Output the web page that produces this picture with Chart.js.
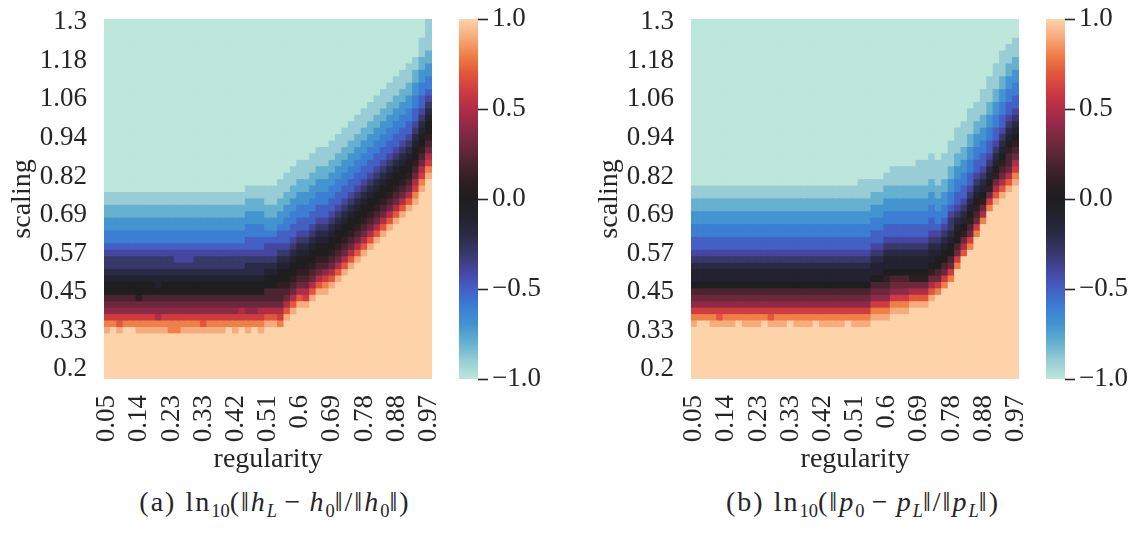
<!DOCTYPE html>
<html>
<head>
<meta charset="utf-8">
<title>Heatmaps: regularity vs scaling</title>
<script src="https://cdn.jsdelivr.net/npm/chart.js@4.4.1/dist/chart.umd.min.js"></script>
<style>
    body { margin: 0; background: #ffffff; }
    #page {
        position: relative;
        width: 1140px;
        height: 533px;
        overflow: hidden;
        font-family: "Liberation Serif", "DejaVu Serif", serif;
        color: #262626;
    }
    canvas { position: absolute; top: 0; }
    .caption {
        position: absolute;
        top: 486px;
        width: 560px;
        text-align: center;
        font-size: 28px;
        line-height: 32px;
        letter-spacing: 2px;
        white-space: nowrap;
    }
    .caption sub { font-size: 0.66em; line-height: 0; vertical-align: -0.32em; letter-spacing: 0; }
    .caption .op { margin: 0 0.26em; }
</style>
</head>
<body>
<div id="page">
    <canvas id="heatA" width="440" height="480" style="left:0px"></canvas>
    <canvas id="barA" width="130" height="400" style="left:450px"></canvas>
    <canvas id="heatB" width="440" height="480" style="left:587px"></canvas>
    <canvas id="barB" width="130" height="400" style="left:1037px"></canvas>
    <div class="caption" style="left:-5px">(a) ln<sub>10</sub>(‖<i>h</i><sub><i>L</i></sub><span class="op">−</span><i>h</i><sub>0</sub>‖/‖<i>h</i><sub>0</sub>‖)</div>
    <div class="caption" style="left:583px">(b) ln<sub>10</sub>(‖<i>p</i><sub>0</sub><span class="op">−</span><i>p</i><sub><i>L</i></sub>‖/‖<i>p</i><sub><i>L</i></sub>‖)</div>
</div>
<script>
// Tick labels
const regTicks = ['0.05', '0.14', '0.23', '0.33', '0.42', '0.51', '0.6', '0.69', '0.78', '0.88', '0.97'];
const regTickCols = [0, 5, 10, 15, 20, 25, 30, 35, 40, 45, 50];
const scalingTicks = ['1.3', '1.18', '1.06', '0.94', '0.82', '0.69', '0.57', '0.45', '0.33', '0.2'];
const scalingTickRows = [55, 49, 43, 37, 31, 25, 19, 13, 7, 1];
const rowCount = 56;

// Colorbar
const cbTicks = [-1, -0.5, 0, 0.5, 1];
const cbLabels = ['\u22121.0', '\u22120.5', '0.0', '0.5', '1.0'];
// icefire, sampled from the colorbar at -1.0, -0.9 ... 1.0
const cmapStops = [
    '#bde7db', '#98cdd5', '#66b1cf', '#4494cf', '#3b7ed4', '#4360c4', '#4646a0',
    '#38386a', '#2b2a46', '#222230', '#1f1e1f', '#2f1e22', '#4a2430', '#6c283c',
    '#8e2947', '#b02d48', '#cf3b3f', '#e2573a', '#ef8048', '#f6ac7d', '#fdd3a9'
];

// Heatmap cells, one column per regularity value.
// Rows below bottom* are +1, rows above the band are -1.
// Band chars: '0' = +1.0 ... 'a' = 0.0 ... 'k' = -1.0 (step 0.1), bottom row first.
const bottomA = [
    7, 7, 7, 7, 7, 7, 7, 7, 7, 7,
    7, 7, 7, 7, 7, 7, 7, 7, 7, 7,
    7, 7, 7, 7, 7, 8, 8, 8, 9, 10,
    11, 11, 12, 13, 13, 14, 15, 16, 17, 18,
    19, 20, 21, 22, 23, 24, 25, 26, 27, 29,
    31
];
const bandsA = [
    '124678aabcddefgghhiijj', '024678aabcddefgghhiijj', '134678aabcddefgghhiijj',
    '024678aabcddefgghhiijj', '024678aabcddefgghhiijj', '124679aabcddefgghhiijj',
    '124678aabcddefgghhiijj', '124678aabcddefgghhiijj', '125678abbcddefgghhiijj',
    '124678aabcddefgghhiijj', '224678aabcddefgghhiijj', '224678aabcdeefgghhiijj',
    '124678aabcdeefgghhiijj', '124678aabcdeefgghhiijj', '124678aabcddefgghhiijj',
    '134678aabcddefgghhiijj', '124678aabcddefgghhiijj', '124678aabcddefgghhiijj',
    '124678aabcddefgghhiijj', '024678aabcddefgghhiijj', '124678aabcddefgghhiijj',
    '024578aabcddefgghhiijj', '124678aabccdeffgghhiijj', '024678aabccdeffgghhiijj',
    '124578aabccdeffgghhiijj', '135788aabcdeefghhiijjj', '135788aabcdeefghhiijjj',
    '2457889aabcdeffghhiijjj', '135789aabcdeffgghhiijjj', '135789aabcdeffgghhiijjj',
    '135789aabcdeffgghhiijjj', '145789aabcdeffgghhiijjj', '135789aabcdeffgghhiijjj',
    '135789aabcdeffgghhiijjj', '124689aabcdeffgghhiijjj', '135789aabcdeffgghhiijjj',
    '135789aabcdeffgghhiijjj', '135789aabcdeffgghhiijjj', '135789aabcdeffgghhiijjj',
    '135789aabcdeffgghhiijjj', '135789aabcdeffgghhiijjj', '135789aabcdeffgghhiijjj',
    '135789aabcdeffgghhiijjj', '135789aabcdeffgghhiijjj', '135789aabcdeffgghhiijjj',
    '135789aabcdeffgghhiijjj', '135789aabcdeffgghhiijjj', '135789aabcdeffgghhiijjj',
    '1245789aabcdeffgghhiijj', '1245789aabcdeffgghhiijjj', '1245789aabcdefgghhiijjjjj'
];

const bottomB = [
    8, 8, 8, 8, 8, 8, 8, 8, 8, 8,
    8, 8, 8, 8, 8, 8, 8, 8, 8, 8,
    8, 8, 8, 8, 8, 8, 8, 8, 9, 9,
    9, 10, 10, 10, 11, 11, 11, 12, 13, 14,
    15, 17, 18, 20, 22, 24, 26, 27, 28, 29,
    30
];
const bandsB = [
    '124678abbcdeffgghhiijj', '024678abbcdeffgghhiijj', '024678abbcdeffgghhiijj',
    '124678abbcdeffgghhiijj', '134678abbcdeffgghhiijj', '124678abbcdeffgghhiijj',
    '124678abbcdeffgghhiijj', '024678abbcdeffgghhiijj', '124678abbcdeffgghhiijj',
    '124678abbcdeffgghhiijj', '124678abbcdeffgghhiijj', '024678abbcdeffgghhiijj',
    '134678abbcdeffgghhiijj', '124678abbcdeffgghhiijj', '124678abbcdeffgghhiijj',
    '024678abbcdeffgghhiijj', '124678abbcdeffgghhiijj', '124678abbcdeffgghhiijj',
    '124678abbcdeffgghhiijj', '024678abbcdeffgghhiijj', '124678abbcdeffgghhiijj',
    '124678abbcdeffgghhiijj', '124678abbcdeffgghhiijj', '124678abbcdeffgghhiijj',
    '024678abbcdeffgghhiijj', '124678abbcdeffgghhiijj', '124678abbcdeffgghhiijjj',
    '124678abbcdeffgghhiijjj', '124678abbcdeffgghhiijj', '124678abbcdeffgghhiijj',
    '1246789abbcdeffgghhiijj', '124678abbcdeffgghhiijjj', '124678abbcdeffgghhiijjj',
    '124678abbcdeffgghhiijjj', '13579abbcdeffgghhiijjj', '13579abbcdeffgghhiijjjj',
    '13579abbcdeffgghhiijjjj', '13579abbcdeffgghhiijjjj', '2478aabcdefgghhiijjjj',
    '2478aabcdefgghhiijjjj', '2478aabcddefgghhiijjjj', '2478aabcdeffgghhiijjjj',
    '03579abcdeffgghhiijjjj', '24789abcdeffgghhiijjjj', '24789abcdeffgghhiijjj',
    '2579abcdeffgghhiijjjj', '2479abcdeffgghhiijjjj', '13579abcdeffgghhiijjjj',
    '135789abcdeffgghhiijjjj', '1357889abcdeffgghhiijjj', '1245789abcdeffgghhiijjj'
];

const LEVELS = '0123456789abcdefghijk';
const TEXT = '#262626';
const FONT = '"Liberation Serif", "DejaVu Serif", serif';

// Value of one cell
function cellValue(bottom, band, row) {
    if (row < bottom) return 1;
    const i = row - bottom;
    if (i >= band.length) return -1;
    return 1 - LEVELS.indexOf(band[i]) / 10;
}

function hexToRgb(hex) {
    const n = parseInt(hex.slice(1), 16);
    return [(n >> 16) & 255, (n >> 8) & 255, n & 255];
}

// Map a value in [-1, 1] to the colormap
function colorFor(v) {
    const t = (Math.max(-1, Math.min(1, v)) + 1) / 2 * (cmapStops.length - 1);
    const i = Math.min(Math.floor(t), cmapStops.length - 2);
    const f = t - i;
    const a = hexToRgb(cmapStops[i]);
    const b = hexToRgb(cmapStops[i + 1]);
    const c = a.map((x, k) => Math.round(x + (b[k] - x) * f));
    return `rgb(${c[0]}, ${c[1]}, ${c[2]})`;
}

// Drop the extra room Chart.js keeps for the first/last tick label
function noEdgePadding(scale) {
    scale.paddingLeft = 0;
    scale.paddingRight = 0;
    scale.paddingTop = 0;
    scale.paddingBottom = 0;
}

// One dataset per row; each bar spans that row for one column
function buildRows(bottoms, bands) {
    const datasets = [];
    for (let r = 0; r < rowCount; r++) {
        datasets.push({
            data: bands.map(() => [r, r + 1]),
            backgroundColor: bands.map((band, c) => colorFor(cellValue(bottoms[c], band, r))),
            borderWidth: 0,
            inflateAmount: 0.6,
            barPercentage: 1,
            categoryPercentage: 1,
            grouped: false
        });
    }
    return datasets;
}

function drawHeatmap(canvasId, bottoms, bands) {
    return new Chart(document.getElementById(canvasId), {
        type: 'bar',
        data: {
            labels: bands.map((_, i) => i),
            datasets: buildRows(bottoms, bands)
        },
        options: {
            responsive: false,
            animation: false,
            events: [],
            layout: { padding: { top: 19, right: 8, left: 0, bottom: 0 } },
            plugins: { legend: { display: false }, tooltip: { enabled: false } },
            scales: {
                x: {
                    grid: { display: false, drawTicks: false },
                    border: { display: false },
                    afterBuildTicks: scale => {
                        scale.ticks = regTickCols.map(v => ({ value: v }));
                    },
                    afterFit: scale => {
                        scale.height = 101;
                        noEdgePadding(scale);
                    },
                    ticks: {
                        autoSkip: false,
                        minRotation: 90,
                        maxRotation: 90,
                        padding: 16,
                        color: TEXT,
                        font: { family: FONT, size: 27 },
                        callback: v => regTicks[regTickCols.indexOf(v)]
                    },
                    title: {
                        display: true,
                        text: 'regularity',
                        color: TEXT,
                        font: { family: FONT, size: 28 },
                        padding: { top: 0, bottom: 4 }
                    }
                },
                y: {
                    min: 0,
                    max: rowCount,
                    grid: { display: false, drawTicks: false },
                    border: { display: false },
                    afterBuildTicks: scale => {
                        scale.ticks = scalingTickRows.map(r => ({ value: r + 0.5 }));
                    },
                    afterFit: scale => {
                        scale.width = 104;
                        noEdgePadding(scale);
                    },
                    ticks: {
                        padding: 17,
                        color: TEXT,
                        font: { family: FONT, size: 27 },
                        callback: v => scalingTicks[scalingTickRows.indexOf(v - 0.5)]
                    },
                    title: {
                        display: true,
                        text: 'scaling',
                        color: TEXT,
                        font: { family: FONT, size: 28 },
                        padding: { top: 6, bottom: 0 }
                    }
                }
            }
        }
    });
}

// Colorbar: one floating bar filled with the colormap along the y scale
function drawColorbar(canvasId) {
    return new Chart(document.getElementById(canvasId), {
        type: 'bar',
        data: {
            labels: [''],
            datasets: [{
                data: [[cbTicks[0], cbTicks[cbTicks.length - 1]]],
                borderWidth: 0,
                barPercentage: 1,
                categoryPercentage: 1,
                backgroundColor: ctx => {
                    const chart = ctx.chart;
                    if (!chart.chartArea) return cmapStops[10];
                    const y = chart.scales.y;
                    const g = chart.ctx.createLinearGradient(0, y.getPixelForValue(cbTicks[0]), 0, y.getPixelForValue(cbTicks[cbTicks.length - 1]));
                    cmapStops.forEach((c, i) => g.addColorStop(i / (cmapStops.length - 1), c));
                    return g;
                }
            }]
        },
        options: {
            responsive: false,
            animation: false,
            events: [],
            layout: { padding: { top: 19, right: 0, left: 9, bottom: 21 } },
            plugins: { legend: { display: false }, tooltip: { enabled: false } },
            scales: {
                x: { display: false },
                y: {
                    position: 'right',
                    min: cbTicks[0],
                    max: cbTicks[cbTicks.length - 1],
                    afterBuildTicks: scale => {
                        scale.ticks = cbTicks.map(v => ({ value: v }));
                    },
                    afterFit: scale => {
                        scale.width = 102;
                        noEdgePadding(scale);
                    },
                    grid: {
                        display: true,
                        drawOnChartArea: false,
                        drawTicks: true,
                        tickLength: 10,
                        tickWidth: 1.6,
                        tickColor: TEXT
                    },
                    border: { display: false },
                    ticks: {
                        padding: 4,
                        color: TEXT,
                        font: { family: FONT, size: 27 },
                        callback: v => cbLabels[cbTicks.indexOf(v)]
                    }
                }
            }
        }
    });
}

drawHeatmap('heatA', bottomA, bandsA);
drawColorbar('barA');
drawHeatmap('heatB', bottomB, bandsB);
drawColorbar('barB');
</script>
</body>
</html>
